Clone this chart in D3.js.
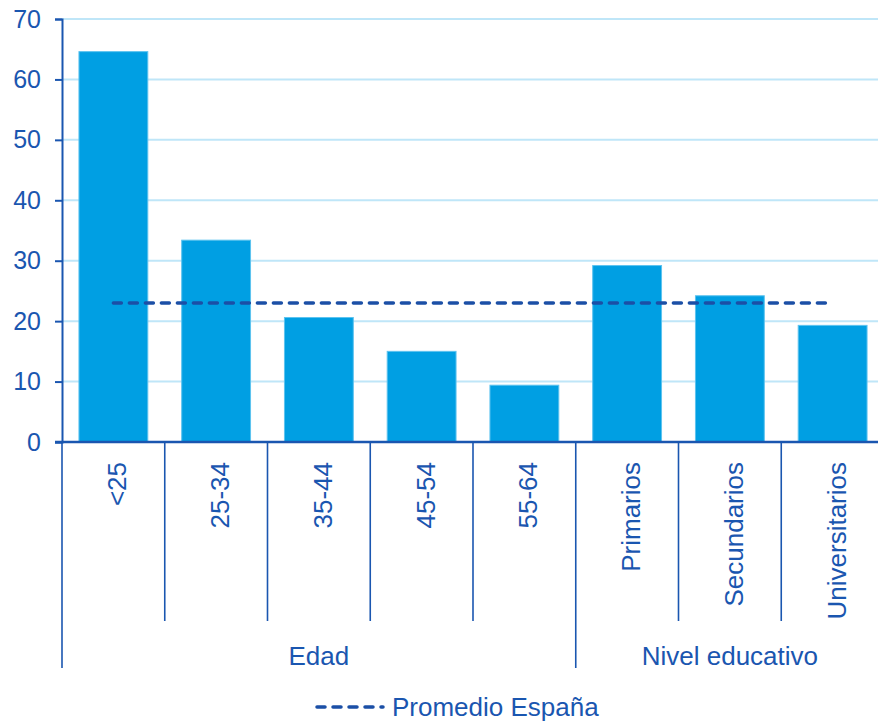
<!DOCTYPE html>
<html><head><meta charset="utf-8">
<script src="https://cdn.jsdelivr.net/npm/d3@7"></script>
<style>body{margin:0;background:#fff;font-family:"Liberation Sans",Arial,sans-serif;}</style>
</head><body><svg id="c" width="878" height="721"></svg>
<script>
const categories = ["<25","25-34","35-44","45-54","55-64","Primarios","Secundarios","Universitarios"];
const values = [64.6, 33.4, 20.6, 15.0, 9.4, 29.2, 24.2, 19.3];
const groups = [{name:"Edad", from:0, to:5},{name:"Nivel educativo", from:5, to:8}];
const average = 23.0;
const yTicks = [0,10,20,30,40,50,60,70];
const legendLabel = "Promedio España";

(function(){
const textCol = "#1a56b0", axisCol = "#1a56b0", barCol = "#009fe3", gridCol = "#bfe6f8", avgCol = "#1b4fa6";
const svg = d3.select("#c");
const mLeft = 62, mRight = 884, mTop = 19, mBottom = 442;
const x = d3.scaleBand().domain(categories).range([mLeft, mRight]).paddingInner(0.33).paddingOuter(0.165);
const xb = d3.scaleBand().domain(categories).range([mLeft, mRight]);
const y = d3.scaleLinear().domain([0,70]).range([mBottom, mTop]);

// grid
svg.append("g").selectAll("line").data(yTicks.filter(d=>d>0)).join("line")
  .attr("x1", mLeft).attr("x2", 878).attr("y1", d=>y(d)).attr("y2", d=>y(d))
  .attr("stroke", gridCol).attr("stroke-width", 2);

// bars
svg.append("g").selectAll("rect").data(values).join("rect")
  .attr("x", (d,i)=>x(categories[i])).attr("width", x.bandwidth())
  .attr("y", d=>y(d)).attr("height", d=>mBottom - y(d))
  .attr("fill", barCol).attr("stroke", "#5cc3ef").attr("stroke-width", 1);

// y axis
const ya = d3.axisLeft(y).tickValues(yTicks).tickSize(7).tickSizeOuter(7).tickPadding(14);
const yg = svg.append("g").attr("transform", `translate(${mLeft},0)`).call(ya);
yg.selectAll("path,line").attr("stroke", axisCol).attr("stroke-width", 2);
yg.selectAll("text").attr("fill", textCol).attr("font-size", 25).attr("font-family", "Liberation Sans, Arial, sans-serif");

// x axis line
svg.append("line").attr("x1", 55).attr("x2", 878).attr("y1", mBottom).attr("y2", mBottom)
  .attr("stroke", axisCol).attr("stroke-width", 2.5);

// divider lines
const bounds = categories.map(c => xb(c));
svg.append("g").selectAll("line").data(bounds).join("line")
  .attr("x1", d=>d).attr("x2", d=>d).attr("y1", mBottom)
  .attr("y2", (d,i)=> groups.some(g=>g.from===i) ? 668 : 621)
  .attr("stroke", axisCol).attr("stroke-width", 1.6);

// category labels rotated
svg.append("g").selectAll("text").data(categories).join("text")
  .attr("transform", d=>`translate(${xb(d)+xb.bandwidth()/2+13},462) rotate(-90)`)
  .attr("text-anchor", "end").attr("fill", textCol).attr("font-size", 26)
  .text(d=>d);

// group labels
svg.append("g").selectAll("text").data(groups).join("text")
  .attr("x", g => (xb(categories[g.from]) + (g.to < categories.length ? xb(categories[g.to]) : mRight))/2)
  .attr("y", 665).attr("text-anchor", "middle").attr("fill", textCol).attr("font-size", 26)
  .text(g=>g.name);

// average line
svg.append("line")
  .attr("x1", xb(categories[0]) + xb.bandwidth()/2)
  .attr("x2", xb(categories[categories.length-1]) + xb.bandwidth()/2 - 5)
  .attr("y1", y(average)).attr("y2", y(average))
  .attr("stroke", avgCol).attr("stroke-width", 3.5).attr("stroke-dasharray", "8,8")
  .attr("stroke-linecap", "round");

// legend
svg.append("line").attr("x1", 317).attr("x2", 383).attr("y1", 707).attr("y2", 707)
  .attr("stroke", avgCol).attr("stroke-width", 3.5).attr("stroke-dasharray", "8,8").attr("stroke-linecap", "round");
svg.append("text").attr("x", 392).attr("y", 716).attr("fill", textCol).attr("font-size", 26).text(legendLabel);
})();
</script></body></html>
